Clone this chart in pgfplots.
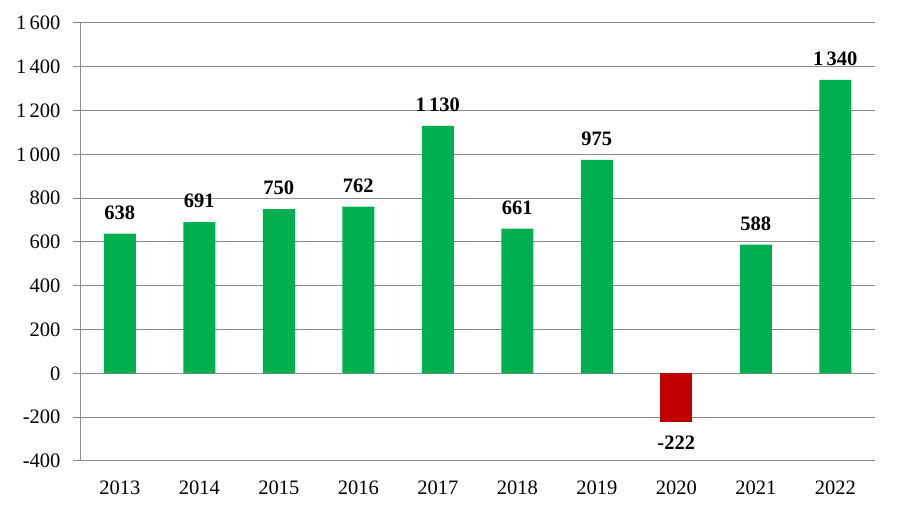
\documentclass[border=0pt]{standalone}
\usepackage{pgfplots}
\pgfplotsset{compat=1.18}
\usepackage{fontspec}
\setmainfont{Liberation Serif}
\definecolor{posgreen}{HTML}{00B050}
\definecolor{negred}{HTML}{C00000}
\definecolor{gridgray}{HTML}{8C8C8C}

\begin{document}
\begin{tikzpicture}[x=1bp,y=1bp]
\path[use as bounding box] (0,0) rectangle (898,513);
\begin{axis}[
  at={(80bp,52bp)}, anchor=south west,
  scale only axis, width=795bp, height=438bp,
  ybar, bar width=32bp, bar shift=0pt,
  xmin=-0.5, xmax=9.5,
  ymin=-400, ymax=1600,
  ytick={-400,-200,...,1600},
  xtick={0,...,9},
  xticklabels={2013,2014,2015,2016,2017,2018,2019,2020,2021,2022},
  axis lines*=left,
  axis line style={gridgray, line width=1bp, -},
  ymajorgrids, grid style={gridgray, line width=1bp},
  xtick style={draw=none},
  ytick style={draw=gridgray, line width=1bp},
  ytick align=outside, major tick length=7bp,
  /pgf/number format/assume math mode=true,
  /pgf/number format/1000 sep={\,},
  ticklabel style={font=\fontsize{20.5bp}{22bp}\selectfont},
  yticklabel style={xshift=-9bp},
  xticklabel style={yshift=-9bp},
  nodes near coords,
  nodes near coords style={font=\fontsize{20.5bp}{22bp}\selectfont\bfseries, inner sep=14bp},
]
\addplot[fill=posgreen, draw=none] coordinates {
  (0,638) (1,691) (2,750) (3,762) (4,1130) (5,661) (6,975) (8,588) (9,1340)};
\addplot[fill=negred, draw=none] coordinates {(7,-222)};
\end{axis}
\end{tikzpicture}
\end{document}
